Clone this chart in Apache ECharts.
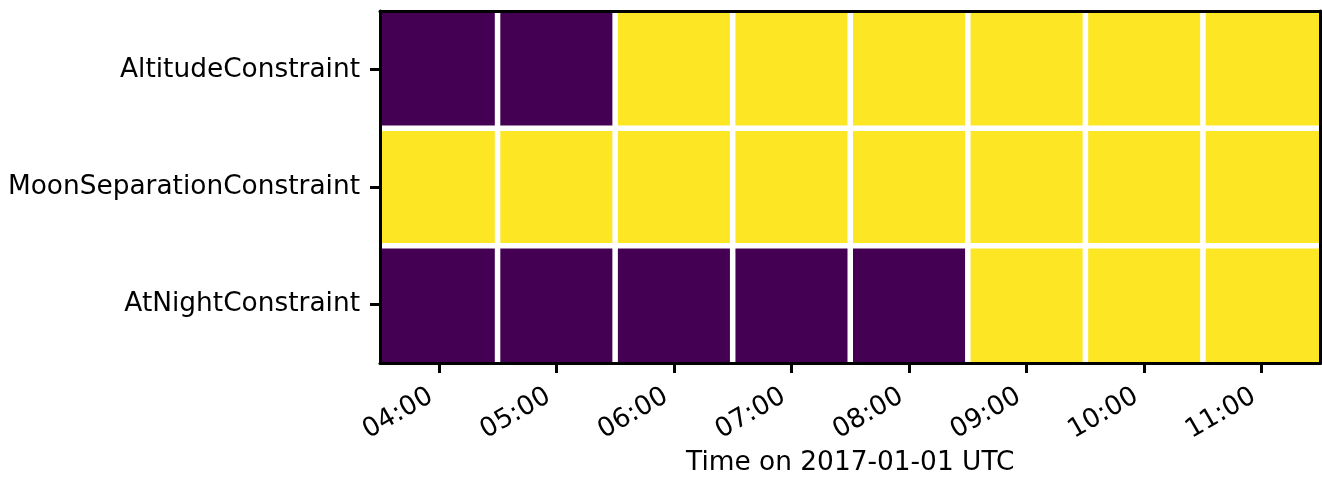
<!DOCTYPE html>
<html>
<head>
<meta charset="utf-8">
<script src="https://cdn.jsdelivr.net/npm/echarts@6/dist/echarts.min.js"></script>
<style>
  html, body { margin: 0; padding: 0; background: #fff; }
  #chart { width: 1322px; height: 481px; }
</style>
</head>
<body>
<div id="chart"></div>
<script>
// Observing times (hourly) and the constraints evaluated at each
const times = ['04:00', '05:00', '06:00', '07:00', '08:00', '09:00', '10:00', '11:00'];
const constraints = ['AtNightConstraint', 'MoonSeparationConstraint', 'AltitudeConstraint'];

// 1 = constraint satisfied, 0 = not satisfied
const altitudeOk = [0, 0, 1, 1, 1, 1, 1, 1];
const moonSepOk  = [1, 1, 1, 1, 1, 1, 1, 1];
const atNightOk  = [0, 0, 0, 0, 0, 1, 1, 1];

const rows = { AtNightConstraint: atNightOk, MoonSeparationConstraint: moonSepOk, AltitudeConstraint: altitudeOk };

const cells = [];
constraints.forEach((name, yi) => {
  rows[name].forEach((v, xi) => cells.push([xi, yi, v]));
});

const PURPLE = '#440154';
const YELLOW = '#fde725';
const HALF_GAP = 2.75;
const FONT = 'DejaVu Sans';
const FS = 26.4;

const chart = echarts.init(document.getElementById('chart'), null, { renderer: 'canvas' });

chart.setOption({
  animation: false,
  grid: { left: 380, top: 11, right: 1.5, bottom: 118, containLabel: false, outerBoundsMode: 'none' },
  xAxis: [{
    type: 'category',
    data: times,
    position: 'bottom',
    axisLine: { show: true, lineStyle: { color: '#000', width: 3 } },
    axisTick: { show: true, alignWithLabel: true, length: 10, lineStyle: { color: '#000', width: 3 } },
    axisLabel: { rotate: 30, fontFamily: FONT, fontSize: FS, color: '#000', margin: 27, padding: [0, 9, 0, 0] },
    name: 'Time on 2017-01-01 UTC',
    nameLocation: 'middle',
    nameGap: 87,
    nameTextStyle: { fontFamily: FONT, fontSize: FS, color: '#000' },
    splitLine: { show: false },
    z: 5
  }, {
    type: 'category',
    data: times,
    position: 'top',
    axisLine: { show: true, lineStyle: { color: '#000', width: 3 } },
    axisTick: { show: false },
    axisLabel: { show: false },
    z: 5
  }],
  yAxis: [{
    type: 'category',
    data: constraints,
    position: 'left',
    axisLine: { show: true, lineStyle: { color: '#000', width: 3 } },
    axisTick: { show: true, alignWithLabel: true, length: 10, lineStyle: { color: '#000', width: 3 } },
    axisLabel: { fontFamily: FONT, fontSize: FS, color: '#000', margin: 20 },
    splitLine: { show: false },
    z: 5
  }, {
    type: 'category',
    data: constraints,
    position: 'right',
    axisLine: { show: true, lineStyle: { color: '#000', width: 3 } },
    axisTick: { show: false },
    axisLabel: { show: false },
    z: 5
  }],
  series: [{
    type: 'custom',
    data: cells,
    encode: { x: 0, y: 1 },
    renderItem: function (params, api) {
      const xi = api.value(0), yi = api.value(1), v = api.value(2);
      const c = api.coord([xi, yi]);
      const s = api.size([1, 1]);
      let x0 = c[0] - s[0] / 2, x1 = c[0] + s[0] / 2;
      let y0 = c[1] - s[1] / 2, y1 = c[1] + s[1] / 2;
      if (xi > 0) x0 += HALF_GAP;
      if (xi < times.length - 1) x1 -= HALF_GAP;
      if (yi < constraints.length - 1) y0 += HALF_GAP;
      if (yi > 0) y1 -= HALF_GAP;
      return {
        type: 'rect',
        shape: { x: x0, y: y0, width: x1 - x0, height: y1 - y0 },
        style: { fill: v ? YELLOW : PURPLE }
      };
    },
    z: 2
  }]
});
</script>
</body>
</html>
